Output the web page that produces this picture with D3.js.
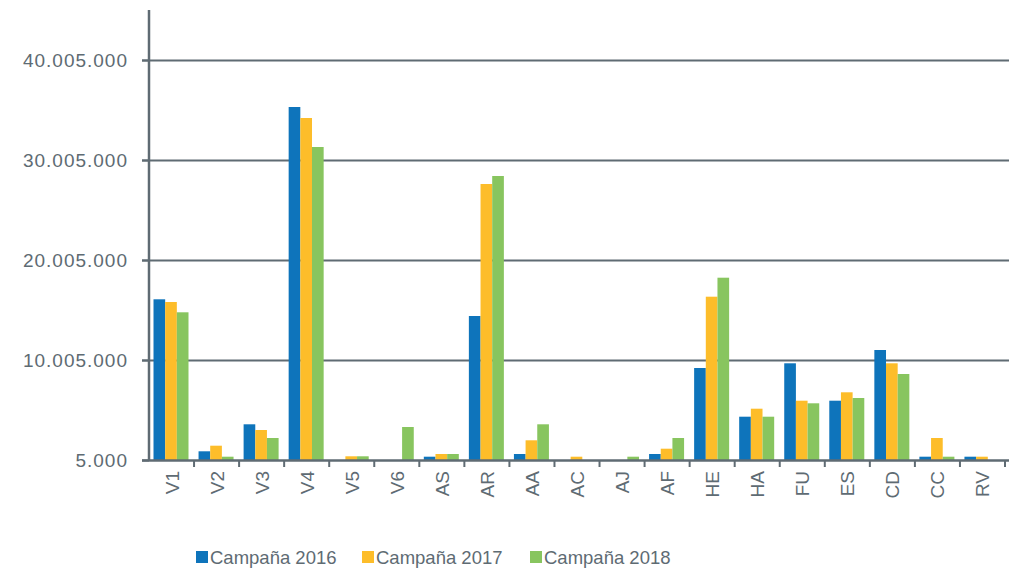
<!DOCTYPE html>
<html>
<head>
<meta charset="utf-8">
<script src="https://cdnjs.cloudflare.com/ajax/libs/d3/7.8.5/d3.min.js"></script>
<style>
  body { margin: 0; background: #fff; }
  text { font-family: "Liberation Sans", Arial, sans-serif; fill: #5e6b73; }
</style>
</head>
<body>
<div id="chart"></div>
<script>
// categories and series
var categories = ["V1", "V2", "V3", "V4", "V5", "V6", "AS", "AR", "AA", "AC",
	"AJ", "AF", "HE", "HA", "FU", "ES", "CD", "CC", "RV"];
var seriesNames = ["Campaña 2016", "Campaña 2017", "Campaña 2018"];
var values2016 = [16075000, 875000, 3575000, 35305000, 5000, 5000, 335000, 14405000, 605000, 5000,
	5000, 605000, 9205000, 4335000, 9675000, 5935000, 11005000, 335000, 335000];
var values2017 = [15805000, 1435000, 3005000, 34205000, 375000, 5000, 605000, 27605000, 1975000, 335000,
	5000, 1135000, 16335000, 5135000, 5935000, 6775000, 9675000, 2205000, 335000];
var values2018 = [14775000, 335000, 2205000, 31305000, 375000, 3305000, 605000, 28405000, 3575000, 5000,
	335000, 2205000, 18235000, 4335000, 5675000, 6205000, 8605000, 335000, 5000];
var yTicks = [5000, 10005000, 20005000, 30005000, 40005000];
var colors = ["#0e74bb", "#fdbd2a", "#88c55f"];

var width = 1009, height = 571;
var svg = d3.select("#chart").append("svg")
	.attr("width", width)
	.attr("height", height);

var x0 = d3.scaleBand().domain(categories).range([149, 1005]).padding(0);
var x1 = d3.scaleBand().domain(seriesNames).range([4.5, 39.5]).padding(0);
var y = d3.scaleLinear().domain([5000, 45005000]).range([460, 10]);

var axisColor = "#5f6b73";

// gridlines
svg.append("g").selectAll("line")
	.data(yTicks.slice(1))
	.enter().append("line")
	.attr("x1", 142).attr("x2", width)
	.attr("y1", function (d) { return Math.round(y(d)) + 0.5; })
	.attr("y2", function (d) { return Math.round(y(d)) + 0.5; })
	.attr("stroke", axisColor)
	.attr("stroke-width", 2);

// bars
var series = [values2016, values2017, values2018];
var groups = svg.append("g").selectAll("g")
	.data(categories)
	.enter().append("g")
	.attr("transform", function (d) { return "translate(" + x0(d) + ",0)"; });

groups.selectAll("rect")
	.data(function (d, i) {
		return seriesNames.map(function (s, j) { return { s: s, v: series[j][i], c: colors[j] }; });
	})
	.enter().append("rect")
	.attr("x", function (d) { return x1(d.s); })
	.attr("width", x1.bandwidth())
	.attr("y", function (d) { return y(d.v); })
	.attr("height", function (d) { return y(5000) - y(d.v); })
	.attr("fill", function (d) { return d.c; });

// y axis
var yAxis = svg.append("g")
	.attr("transform", "translate(149,0)")
	.call(d3.axisLeft(y).tickValues(yTicks).tickSize(7).tickPadding(14)
		.tickFormat(function (d) { return d3.format(",")(d).replace(/,/g, "."); }));
yAxis.select(".domain").remove();
yAxis.selectAll(".tick line").attr("stroke", axisColor).attr("stroke-width", 2);
yAxis.selectAll(".tick text")
	.attr("font-size", 19)
	.attr("letter-spacing", 1)
	.attr("dy", "0.36em")
	.style("fill", "#5e6b73");
svg.append("line")
	.attr("x1", 149).attr("x2", 149).attr("y1", 10).attr("y2", 461)
	.attr("stroke", axisColor).attr("stroke-width", 2.5);

// x axis
svg.append("line")
	.attr("x1", 142).attr("x2", width).attr("y1", 460.5).attr("y2", 460.5)
	.attr("stroke", axisColor).attr("stroke-width", 2.5);
svg.append("g").selectAll("line")
	.data(categories)
	.enter().append("line")
	.attr("x1", function (d) { return x0(d) + x0.bandwidth(); })
	.attr("x2", function (d) { return x0(d) + x0.bandwidth(); })
	.attr("y1", 460).attr("y2", 467)
	.attr("stroke", axisColor).attr("stroke-width", 2);
svg.append("g").selectAll("text")
	.data(categories)
	.enter().append("text")
	.attr("transform", function (d) {
		return "translate(" + (x0(d) + x0.bandwidth() / 2 + 7) + ",471) rotate(-90)";
	})
	.attr("text-anchor", "end")
	.attr("font-size", 19)
	.text(function (d) { return d; });

// legend
var legendX = [196, 362, 530];
var legend = svg.append("g").selectAll("g")
	.data(seriesNames)
	.enter().append("g")
	.attr("transform", function (d, i) { return "translate(" + legendX[i] + ",551)"; });
legend.append("rect")
	.attr("width", 12).attr("height", 12)
	.attr("fill", function (d, i) { return colors[i]; });
legend.append("text")
	.attr("x", 14).attr("y", 13)
	.attr("font-size", 18.5)
	.text(function (d) { return d; });
</script>
</body>
</html>
